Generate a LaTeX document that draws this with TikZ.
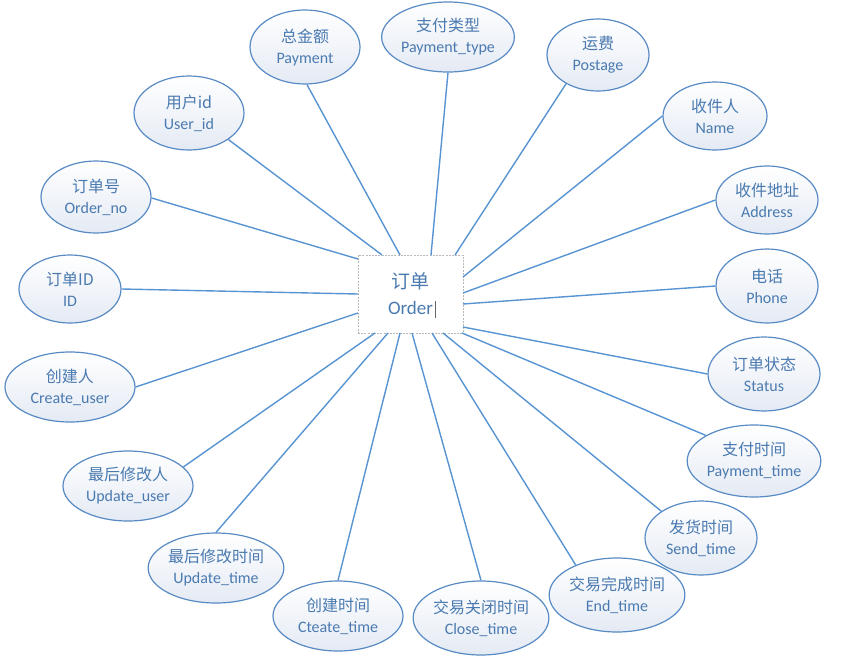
\documentclass[tikz,border=0pt]{standalone}
\usepackage{fontspec}
\usetikzlibrary{shapes.geometric}
\setmainfont{Carlito}
\newfontfamily\cjk{Noto Sans CJK SC}
\definecolor{linec}{RGB}{88,148,210}
\definecolor{edgec}{RGB}{88,138,196}
\definecolor{txtc}{RGB}{74,122,176}
\definecolor{shadec}{RGB}{228,234,244}
\begin{document}
\begin{tikzpicture}[x=1pt,y=-1pt,
  attr/.style={ellipse, draw=edgec, line width=1.2pt, top color=white, bottom color=shadec,
     inner sep=0pt, align=center, text=txtc, font=\fontsize{16}{21}\selectfont},
  entity/.style={rectangle, draw=gray!55, dash pattern=on 2pt off 1.2pt, line width=0.8pt, fill=white,
     minimum width=105, minimum height=78, inner sep=0pt, align=center, text=txtc,
     font=\fontsize{19}{26}\selectfont},
  conn/.style={draw=linec, line width=1.4pt}]
\useasboundingbox (0,0) rectangle (851,664);
\node[entity] (box) at (410.5,294) {{\cjk 订单}\\Order};
\draw[gray!80!black, line width=0.7pt] (435.5,301) -- (435.5,318);

\node[attr, minimum width=110, minimum height=74] (pay) at (305,47) {{\cjk 总金额}\\Payment};
\node[attr, minimum width=110, minimum height=74] (uid) at (189,113) {{\cjk 用户id}\\User\_id};
\node[attr, minimum width=110, minimum height=72] (ono) at (96,197) {{\cjk 订单号}\\Order\_no};
\node[attr, minimum width=102, minimum height=68] (id) at (70,289) {{\cjk 订单ID}\\ID};
\node[attr, minimum width=130, minimum height=70] (ptype) at (448,37) {{\cjk 支付类型}\\Payment\_type};
\node[attr, minimum width=102, minimum height=72] (post) at (598,55) {{\cjk 运费}\\Postage};
\node[attr, minimum width=104, minimum height=68] (name) at (715,116) {{\cjk 收件人}\\Name};
\node[attr, minimum width=102, minimum height=68] (addr) at (767,200) {{\cjk 收件地址}\\Address};
\node[attr, minimum width=102, minimum height=74] (phone) at (767,286) {{\cjk 电话}\\Phone};
\node[attr, minimum width=112, minimum height=74] (status) at (764,374) {{\cjk 订单状态}\\Status};
\node[attr, minimum width=130, minimum height=72] (ptime) at (754,461) {{\cjk 支付时间}\\Payment\_time};
\node[attr, minimum width=112, minimum height=74] (send) at (701,538) {{\cjk 发货时间}\\Send\_time};
\node[attr, minimum width=130, minimum height=74] (endt) at (617,595) {{\cjk 交易完成时间}\\End\_time};
\node[attr, minimum width=130, minimum height=74] (close) at (481,618) {{\cjk 交易关闭时间}\\Close\_time};
\node[attr, minimum width=130, minimum height=70] (ctime) at (338,616) {{\cjk 创建时间}\\Cteate\_time};
\node[attr, minimum width=130, minimum height=70] (utime) at (216,568) {{\cjk 最后修改时间}\\Update\_time};
\node[attr, minimum width=130, minimum height=70] (uuser) at (128,486) {{\cjk 最后修改人}\\Update\_user};
\node[attr, minimum width=130, minimum height=70] (cuser) at (70,387) {{\cjk 创建人}\\Create\_user};

\coordinate (bpay) at (400,255);
\coordinate (buid) at (382,255);
\coordinate (bono) at (358,259);
\coordinate (bid) at (358,294);
\coordinate (bptype) at (431,255);
\coordinate (bpost) at (455,255);
\coordinate (bname) at (463,277);
\coordinate (baddr) at (463,293);
\coordinate (bphone) at (463,304);
\coordinate (bstatus) at (463,327);
\coordinate (bptime) at (462,333);
\coordinate (bsend) at (443,333);
\coordinate (bend) at (432,333);
\coordinate (bclose) at (412,333);
\coordinate (bctime) at (400,333);
\coordinate (butime) at (388,333);
\coordinate (buuser) at (375,333);
\coordinate (bcuser) at (358,313);

\draw[conn] (pay.-87) -- (bpay);
\draw[conn] (uid.-34) -- (buid);
\draw[conn] (ono.-1) -- (bono);
\draw[conn] (id.0) -- (bid);
\draw[conn] (ptype.-90) -- (bptype);
\draw[conn] (post.-138) -- (bpost);
\draw[conn] (name.180) -- (bname);
\draw[conn] (addr.180) -- (baddr);
\draw[conn] (phone.180) -- (bphone);
\draw[conn] (status.180) -- (bstatus);
\draw[conn] (ptime.152) -- (bptime);
\draw[conn] (send.146) -- (bsend);
\draw[conn] (endt.144) -- (bend);
\draw[conn] (close.90) -- (bclose);
\draw[conn] (ctime.90) -- (bctime);
\draw[conn] (utime.90) -- (butime);
\draw[conn] (uuser.19) -- (buuser);
\draw[conn] (cuser.0) -- (bcuser);
\end{tikzpicture}
\end{document}
